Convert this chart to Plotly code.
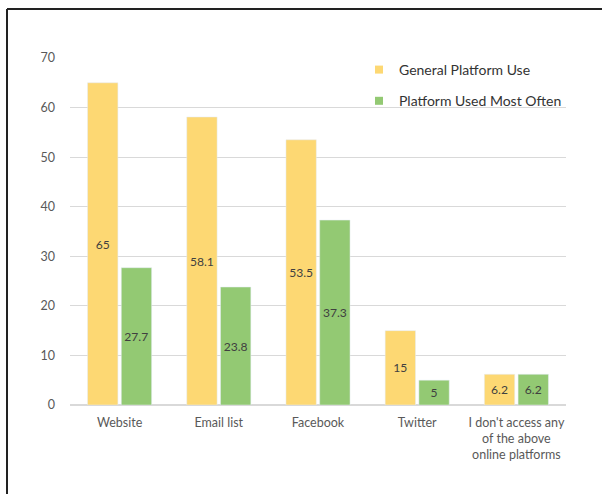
import plotly.graph_objects as go

categories = ["Website", "Email list", "Facebook", "Twitter",
              "I don't access any<br>of the above<br>online platforms"]
general_use = [65, 58.1, 53.5, 15, 6.2]
most_often = [27.7, 23.8, 37.3, 5, 6.2]
series_names = ["General Platform Use", "Platform Used Most Often"]
colors = ["#FDD873", "#93C973"]

W, H = 603, 496
L, R, T, B = 70, 37, 58, 91
pw, ph = W - L - R, H - T - B

fig = go.Figure()
for name, vals, col, grp in [(series_names[0], general_use, colors[0], "a"),
                             (series_names[1], most_often, colors[1], "b")]:
    fig.add_trace(go.Bar(
        x=categories, y=vals, name=name, marker_color=col, legendgroup=grp,
        showlegend=False,
        text=[f"{v:g}" for v in vals], textposition="inside",
        insidetextanchor="middle", textangle=0,
        textfont=dict(family="Lato", size=13, color="#404040"),
        cliponaxis=False,
    ))
for name, col, grp in [(series_names[0], colors[0], "a"),
                       (series_names[1], colors[1], "b")]:
    fig.add_trace(go.Scatter(
        x=[categories[0]], y=[None], mode="markers", name=name, legendgroup=grp,
        marker=dict(symbol="square", size=8, color=col), showlegend=True,
        hoverinfo="skip",
    ))

fig.update_layout(
    width=W, height=H,
    margin=dict(l=L, r=R, t=T, b=B),
    paper_bgcolor="white", plot_bgcolor="white",
    font=dict(family="Lato", color="#595959", size=12),
    barmode="group", bargap=0.32, bargroupgap=0.1,
    showlegend=True,
    legend=dict(x=(359 - L) / pw, y=(H - B - 54) / ph, xanchor="left", yanchor="top",
                font=dict(family="Lato", size=14, color="#333333"),
                traceorder="grouped", tracegroupgap=10,
                bgcolor="rgba(0,0,0,0)", itemwidth=30),
    uniformtext=dict(minsize=8, mode="show"),
)
fig.update_yaxes(range=[0, 70], dtick=10, showgrid=True, gridcolor="#D9D9D9",
                 gridwidth=1, zeroline=True, zerolinecolor="#D9D9D9",
                 showline=False, ticks="", ticklabelstandoff=14,
                 tickfont=dict(size=12.5, color="#595959"))
fig.update_xaxes(showgrid=False, showline=False, ticks="", ticklabelstandoff=8,
                 tickfont=dict(size=12.5, color="#595959"))

# outer frame: only left and top edges are visible in the picture
fx0 = (7 - L) / pw
fy1 = (H - 9 - B) / ph
fig.add_shape(type="line", xref="paper", yref="paper",
              x0=fx0, x1=fx0, y0=-(B - 2) / ph, y1=fy1,
              line=dict(color="#222222", width=2), layer="below")
fig.add_shape(type="line", xref="paper", yref="paper",
              x0=fx0, x1=(W - 1 - L) / pw, y0=fy1, y1=fy1,
              line=dict(color="#222222", width=2), layer="below")

fig.write_html("out.html", config={"displayModeBar": False},
               post_script=("document.body.style.margin='0';"
                            "document.body.style.overflow='hidden';"
                            "document.documentElement.style.overflow='hidden';"))
